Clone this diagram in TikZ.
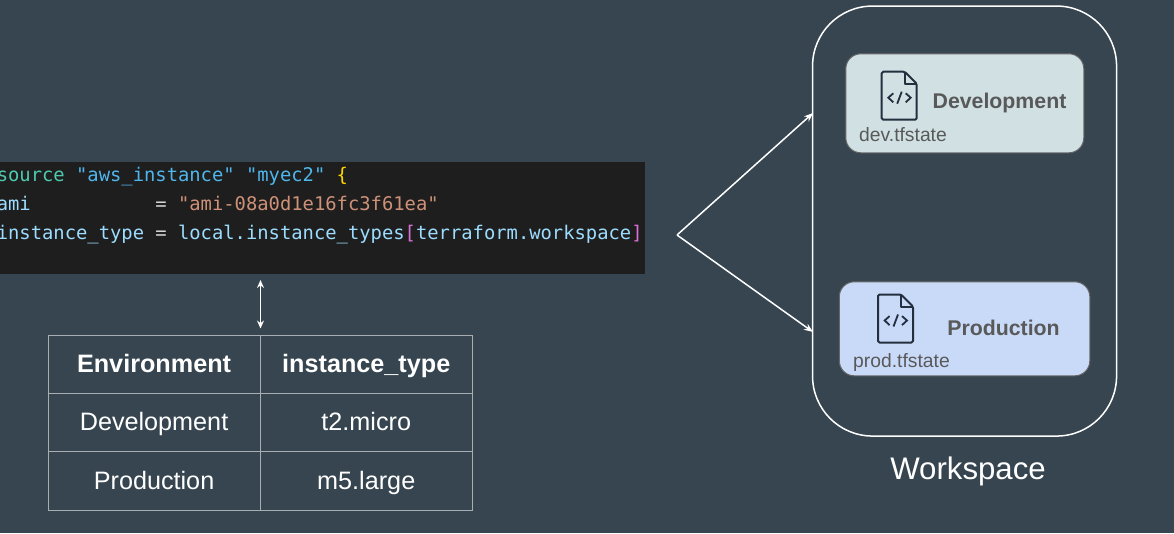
\documentclass[tikz,border=0pt]{standalone}
\usepackage{fontspec}
\setmainfont{Liberation Sans}
\newfontfamily\codefont{DejaVu Sans Mono}
\usetikzlibrary{arrows.meta}
\definecolor{pagebg}{HTML}{36454F}
\definecolor{codebg}{HTML}{1E1E1E}
\definecolor{kw}{HTML}{4EC9B0}
\definecolor{strb}{HTML}{4FB6EC}
\definecolor{strr}{HTML}{CE9178}
\definecolor{brc}{HTML}{FFD700}
\definecolor{vr}{HTML}{9CDCFE}
\definecolor{mg}{HTML}{DA70D6}
\definecolor{eq}{HTML}{D4D4D4}
\definecolor{gridc}{HTML}{A8AEB1}
\definecolor{devfill}{HTML}{D0E0E3}
\definecolor{prodfill}{HTML}{C9DAF8}
\definecolor{boxedge}{HTML}{666666}
\definecolor{labelc}{HTML}{595959}
\definecolor{iconc}{HTML}{232F3E}
\tikzset{
  codeline/.style={anchor=base west,inner sep=0pt,font=\codefont\fontsize{18.82}{22}\selectfont},
  cell/.style={draw=gridc,line width=0.7pt,inner sep=0pt,text=white,minimum width=212pt,minimum height=#1,text height=20pt,text depth=2pt,font=\fontsize{25.2}{29}\selectfont},
  cell/.default=58.5pt,
  headcell/.style={cell,font=\bfseries\fontsize{25.2}{29}\selectfont},
  statebox/.style={draw=boxedge,line width=1pt,rounded corners=15pt,inner sep=0pt},
  envlabel/.style={inner sep=0pt,text=labelc,font=\bfseries\fontsize{21.3}{25}\selectfont},
  filelabel/.style={inner sep=0pt,anchor=base west,text=labelc,font=\fontsize{19.3}{23}\selectfont},
  conn/.style={draw=white,line width=1.5pt},
  fileicon/.pic={
    \draw[iconc,line width=2pt,rounded corners=1.5pt,line join=round] (23,0) -- (0,0) -- (0,48) -- (35,48) -- (35,12) -- cycle;
    \draw[iconc,line width=2pt,line join=round] (23,0) -- (23,12) -- (35,12);
    \draw[iconc,line width=1.8pt] (11.6,21.6) -- (6.6,26) -- (11.6,30.6);
    \draw[iconc,line width=1.8pt] (20,20) -- (15.5,32);
    \draw[iconc,line width=1.8pt] (24,21.6) -- (29,26) -- (24,30.6);
  }
}
\begin{document}
\begin{tikzpicture}[x=1pt,y=-1pt]
\useasboundingbox (0,0) rectangle (1174,533);
\fill[pagebg] (0,0) rectangle (1174,533);
% code block
\node[fill=codebg,inner sep=0pt,minimum width=645pt,minimum height=112pt,anchor=north west] (code) at (0,162) {};
\node[codeline] (l1) at (-3.4,181) {\textcolor{kw}{source} \textcolor{strb}{"aws\_instance"} \textcolor{strb}{"myec2"} \textcolor{brc}{\{}};
\node[codeline] (l2) at (-3.4,210) {\textcolor{vr}{ami}\phantom{xxxxxxxxxxx}\textcolor{eq}{=} \textcolor{strr}{"ami-08a0d1e16fc3f61ea"}};
\node[codeline] (l3) at (-3.4,239) {\textcolor{vr}{instance\_type} \textcolor{eq}{=} \textcolor{vr}{local.instance\_types}\textcolor{mg}{[}\textcolor{vr}{terraform.workspace}\textcolor{mg}{]}};
% table
\node[headcell,minimum height=58pt,anchor=north west] (h1) at (47.7,334.5) {Environment};
\node[headcell,minimum height=58pt,anchor=north west] (h2) at (259.9,334.5) {instance\_type};
\node[cell=58pt,anchor=north west] (c1) at (47.7,392.5) {Development};
\node[cell=58pt,anchor=north west] (c2) at (259.9,392.5) {t2.micro};
\node[cell=59pt,anchor=north west] (d1) at (47.7,450.5) {Production};
\node[cell=59pt,anchor=north west] (d2) at (259.9,450.5) {m5.large};
% workspace
\node[draw=white,line width=1.5pt,rounded corners=60pt,inner sep=0pt,minimum width=304pt,minimum height=430pt,anchor=north west] (ws) at (811.8,5.3) {};
\node[inner sep=0pt,text=white,font=\fontsize{31.2}{37}\selectfont] (wslabel) at (968,471) {Workspace};
\node[statebox,fill=devfill,minimum width=238pt,minimum height=99pt,anchor=north west] (dev) at (845.3,53.3) {};
\node[statebox,fill=prodfill,minimum width=250.5pt,minimum height=94pt,anchor=north west] (prod) at (838.8,281.3) {};
\pic at (881.7,71.7) {fileicon};
\pic at (878,294.5) {fileicon};
\node[envlabel] (devl) at (999.5,103) {Development};
\node[envlabel] (prodl) at (1003.5,328) {Production};
\node[filelabel] (devf) at (859,141) {dev.tfstate};
\node[filelabel] (prodf) at (853,367) {prod.tfstate};
% connectors
\coordinate (fork) at (677,235);
\coordinate (t1) at (813,113);
\coordinate (t2) at (813,332);
\coordinate (u1) at (260.5,280);
\coordinate (u2) at (260.5,328.5);
\draw[conn,-{Stealth[length=9pt,width=7pt]}] (fork) -- (t1);
\draw[conn,-{Stealth[length=9pt,width=7pt]}] (fork) -- (t2);
\draw[conn,{Stealth[length=8pt,width=7pt]}-{Stealth[length=8pt,width=7pt]}] (u1) -- (u2);
\end{tikzpicture}
\end{document}
